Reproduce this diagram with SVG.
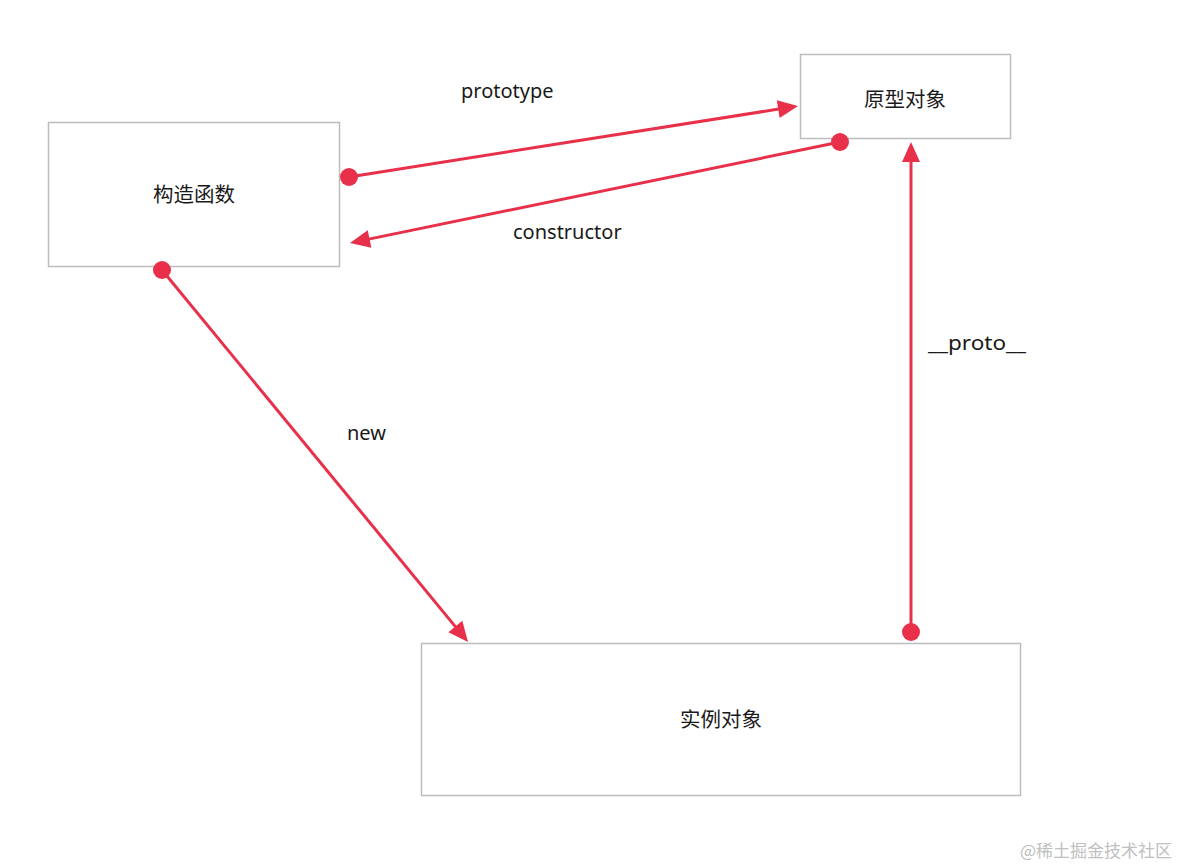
<svg xmlns="http://www.w3.org/2000/svg" width="1178" height="866" viewBox="0 0 1178 866">
<defs>
<style>
.box{fill:#fff;stroke:#bdbdbd;stroke-width:1.5}
.lbl{font-family:"Noto Sans","Noto Sans CJK SC",sans-serif;font-size:20px;fill:#1a1a1a}
.node{font-family:"Noto Sans CJK SC","Noto Sans",sans-serif;font-size:20.5px;fill:#1a1a1a;text-anchor:middle}
.edge{stroke:#e8304a;stroke-width:3;fill:none}
.dot{fill:#e8304a}
</style>
<marker id="ah" markerUnits="userSpaceOnUse" markerWidth="20" markerHeight="18" refX="2" refY="9" orient="auto" overflow="visible">
<path d="M0,0 L20,9 L0,18 z" fill="#e8304a"/>
</marker>
</defs>
<rect width="1178" height="866" fill="#fff"/>
<g id="node-constructor">
<rect class="box" x="48.5" y="122.5" width="291" height="144"/>
<text class="node" x="194" y="202">构造函数</text>
</g>
<g id="node-prototype">
<rect class="box" x="800.5" y="54.5" width="210" height="84"/>
<text class="node" x="905" y="107">原型对象</text>
</g>
<g id="node-instance">
<rect class="box" x="421.5" y="643.5" width="599" height="152"/>
<text class="node" x="721" y="727">实例对象</text>
</g>
<g id="connectors">
<line class="edge" x1="349" y1="177" x2="780.2" y2="108.8" marker-end="url(#ah)"/>
<circle class="dot" cx="349" cy="177" r="9"/>
<line class="edge" x1="840" y1="142" x2="367.6" y2="239.4" marker-end="url(#ah)"/>
<circle class="dot" cx="840" cy="142" r="9"/>
<line class="edge" x1="162" y1="270" x2="456.6" y2="628.1" marker-end="url(#ah)"/>
<circle class="dot" cx="162" cy="270" r="9"/>
<line class="edge" x1="911" y1="632" x2="911" y2="160" marker-end="url(#ah)"/>
<circle class="dot" cx="911" cy="632" r="9"/>
<text class="lbl" x="461" y="98">prototype</text>
<text class="lbl" x="513" y="239">constructor</text>
<text class="lbl" x="347" y="440">new</text>
<text class="lbl" x="928" y="350" textLength="98" lengthAdjust="spacingAndGlyphs">__proto__</text>
</g>
<text x="1172" y="857" text-anchor="end" style="font-family:'Noto Sans CJK SC','Noto Sans',sans-serif;font-size:17px;fill:#c0c0c0">@稀土掘金技术社区</text>
</svg>
